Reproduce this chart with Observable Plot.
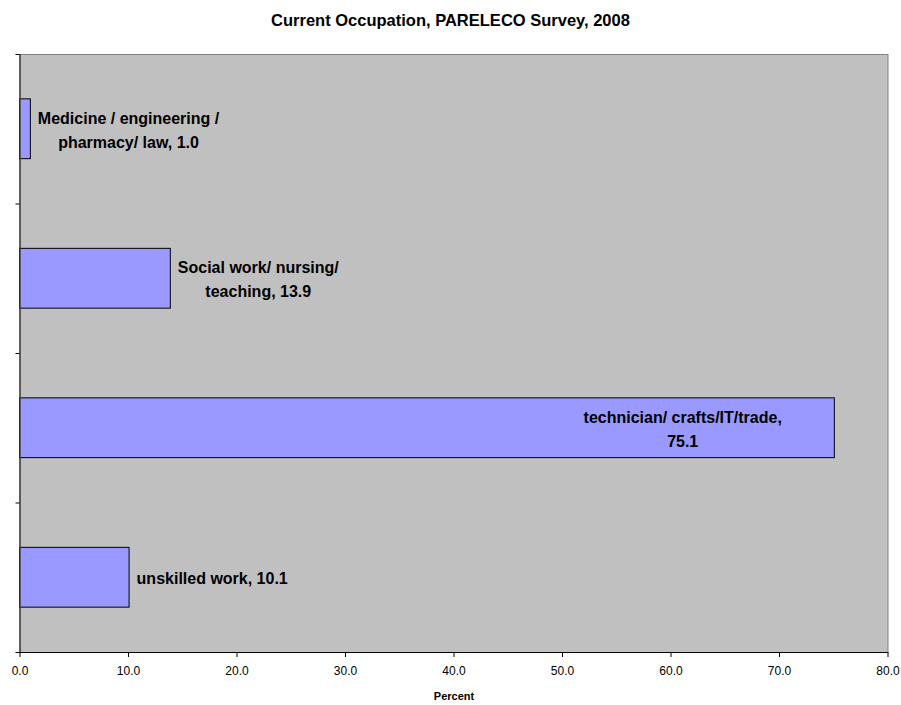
<!DOCTYPE html>
<html>
<head>
<meta charset="utf-8">
<script src="https://cdn.jsdelivr.net/npm/d3@7"></script>
<script src="https://cdn.jsdelivr.net/npm/@observablehq/plot@0.6"></script>
<style>
  body { margin: 0; background: white; }
  #wrap { position: relative; width: 901px; height: 705px; }
  #title { position: absolute; top: 11px; left: 0; width: 901px; text-align: center;
    font: bold 16.5px "Liberation Sans", Arial, sans-serif; color: #000; }
</style>
</head>
<body>
<div id="wrap">
  <div id="title">Current Occupation, PARELECO Survey, 2008</div>
  <div id="chart"></div>
</div>
<script>
// Data (bottom to top)
const categories = ["unskilled work", "technician/ crafts/IT/trade", "Social work/ nursing/ teaching", "Medicine / engineering / pharmacy/ law"];
const values = [10.1, 75.1, 13.9, 1.0];
const labelLines = [
  ["unskilled work, 10.1"],
  ["technician/ crafts/IT/trade,", "75.1"],
  ["Social work/ nursing/", "teaching, 13.9"],
  ["Medicine / engineering /", "pharmacy/ law, 1.0"]
];
const labelPlacement = ["outside", "inside", "outside", "outside"];
const xTicks = [0, 10, 20, 30, 40, 50, 60, 70, 80];
const xLabel = "Percent";

const labelFont = 'bold 16px "Liberation Sans", Arial, sans-serif';
const ctx = document.createElement("canvas").getContext("2d");
ctx.font = labelFont;
const widest = (lines) => d3.max(lines, (l) => ctx.measureText(l).width);

const data = categories.map((c, i) => {
  const w = widest(labelLines[i]);
  return {
    category: c,
    value: values[i],
    idx: i,
    label: labelLines[i].join("\n"),
    dx: labelPlacement[i] === "outside" ? 7 + w / 2 : -(53 + w / 2)
  };
});

const labelMarks = data.map((d) => Plot.text([d], {
  x: "value",
  y: (r) => r.idx + 0.5,
  text: "label",
  dx: d.dx,
  dy: -1,
  textAnchor: "middle",
  lineAnchor: "middle",
  lineHeight: 1.5,
  fontSize: 16,
  fontWeight: "bold",
  fill: "#000"
}));

const chart = Plot.plot({
  width: 901,
  height: 705,
  marginTop: 54,
  marginBottom: 53,
  marginLeft: 19.5,
  marginRight: 13.5,
  style: { fontFamily: '"Liberation Sans", Arial, sans-serif', background: "white", color: "#000" },
  x: { domain: [0, 80] },
  y: { domain: [0, categories.length] },
  marks: [
    Plot.frame({ fill: "#C0C0C0", stroke: "#808080" }),
    Plot.rectX(data, {
      x1: 0, x2: "value",
      y1: (d) => d.idx + 0.3, y2: (d) => d.idx + 0.7,
      fill: "#9999FF", stroke: "#000", strokeWidth: 1
    }),
    Plot.ruleX([0], { stroke: "#404040", strokeWidth: 1.5 }),
    Plot.ruleY([0], { stroke: "#000", strokeWidth: 1 }),
    Plot.axisY({ ticks: d3.range(0, categories.length + 1), tickFormat: () => "", tickSize: 4, label: null, stroke: "#000" }),
    Plot.axisX({ ticks: xTicks, tickFormat: d3.format(".1f"), tickSize: 5, tickPadding: 9, fontSize: 12, label: null }),
    Plot.text([xLabel], { frameAnchor: "bottom", dy: 47, fontSize: 11, fontWeight: "bold" }),
    ...labelMarks
  ]
});
document.getElementById("chart").appendChild(chart);
</script>
</body>
</html>
